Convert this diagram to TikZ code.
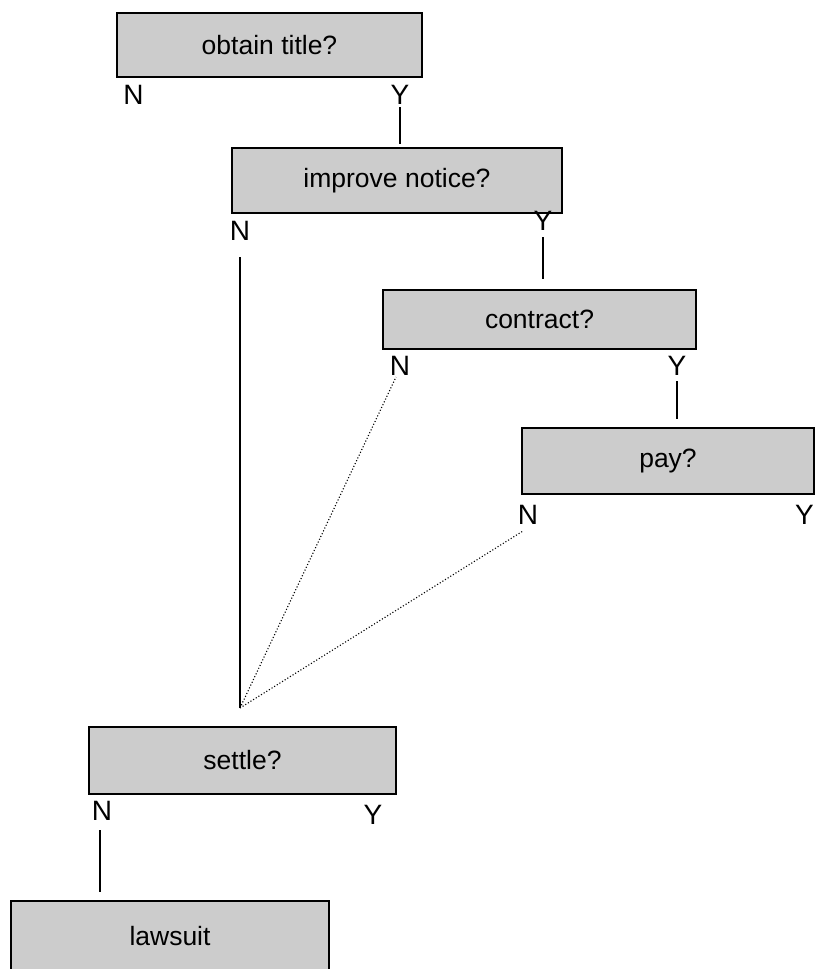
\documentclass[tikz,border=0pt]{standalone}
\usepackage{fontspec}
\setmainfont{Liberation Sans}
\begin{document}
\begin{tikzpicture}[x=1pt,y=-1pt,
  qbox/.style={draw=black, line width=1.6pt, fill=black!20, inner sep=0pt, anchor=center, font=\fontsize{26.5}{30}\selectfont},
  yn/.style={inner sep=0pt, anchor=center, font=\fontsize{28}{32}\selectfont},
  conn/.style={line width=1.4pt},
  dconn/.style={line width=1.1pt, dotted}]
\useasboundingbox (0,0) rectangle (815,969);
\clip (0,0) rectangle (815,969);
\node[qbox, minimum width=305pt, minimum height=64pt] (b1) at (269.5,45) {obtain title?};
\node[qbox, minimum width=330pt, minimum height=65pt] (b2) at (397,180.5) {improve notice?};
\node[qbox, minimum width=313pt, minimum height=59pt] (b3) at (539.5,319.5) {contract?};
\node[qbox, minimum width=292pt, minimum height=66pt] (b4) at (668,461) {pay?};
\node[qbox, minimum width=307pt, minimum height=67pt] (b5) at (242.5,760.5) {settle?};
\node[qbox, minimum width=318pt, minimum height=71pt] (b6) at (170,936.5) {lawsuit};
\node[yn] (n1) at (133.5,95) {N};
\node[yn] (y1) at (400,95) {Y};
\node[yn] (n2) at (240,231) {N};
\node[yn] (y2) at (543,221) {Y};
\node[yn] (n3) at (400,366) {N};
\node[yn] (y3) at (677,366) {Y};
\node[yn] (n4) at (528,515) {N};
\node[yn] (y4) at (804.5,515) {Y};
\node[yn] (n5) at (102,811) {N};
\node[yn] (y5) at (373,815) {Y};
\coordinate (y1e) at (400,107);
\coordinate (y2e) at (543,237);
\coordinate (y3e) at (677,381);
\coordinate (n2e) at (240,257);
\coordinate (n3e) at (396,377);
\coordinate (n4e) at (523,531);
\coordinate (n5e) at (100,830);
\coordinate (m) at (240,708);
\draw[conn] (y1e) -- ([yshift=3pt]y1e |- b2.north);
\draw[conn] (y2e) -- ([yshift=10pt]y2e |- b3.north);
\draw[conn] (y3e) -- ([yshift=8pt]y3e |- b4.north);
\draw[conn] (n2e) -- (m);
\draw[dconn] (m) -- (n3e);
\draw[dconn] (m) -- (n4e);
\draw[conn] (n5e) -- ([yshift=8pt]n5e |- b6.north);
\end{tikzpicture}
\end{document}
